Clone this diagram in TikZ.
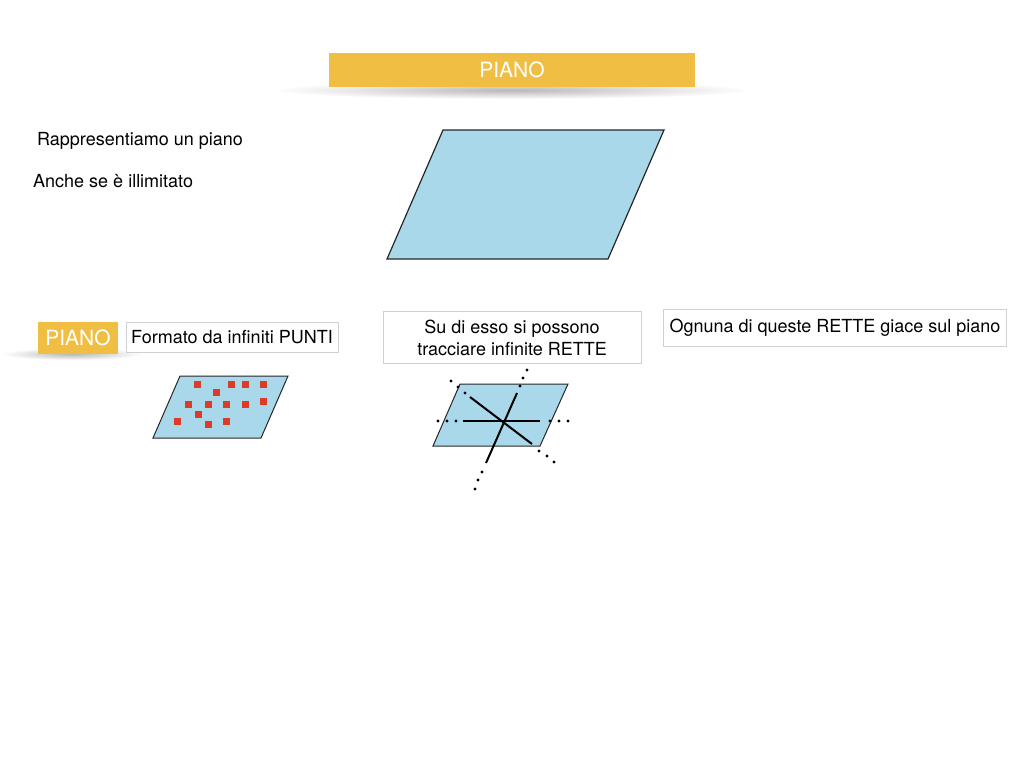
\documentclass[tikz,border=0pt]{standalone}
\usepackage{fontspec}
\setmainfont{TeX Gyre Heros}
\usepackage{xcolor}
\definecolor{gold}{RGB}{239,190,66}
\definecolor{pianoblue}{RGB}{168,216,234}
\definecolor{puntored}{RGB}{222,58,40}
\definecolor{boxgray}{RGB}{208,208,208}

\begin{document}
\begin{tikzpicture}[x=1pt,y=-1pt,
  txt/.style={font=\fontsize{18}{22}\selectfont,inner sep=0pt},
  tbox/.style={draw=boxgray,line width=0.8pt,fill=white,align=center,
    font=\fontsize{18}{22}\selectfont},
  titolo/.style={fill=gold,text=white,font=\fontsize{21}{24}\selectfont},
  piano/.style={fill=pianoblue,draw=black!85,line width=1.2pt,line join=miter},
  retta/.style={line width=2pt}]
\useasboundingbox (0,0) rectangle (1024,768);
% title bar with soft shadow
\shade[inner color=black!28,outer color=white] (512,90) ellipse (240 and 9);
\node[titolo,minimum width=366,minimum height=34] (titolo) at (512,70) {PIANO};
% big plane
\draw[piano] (443,130)--(664,130)--(608,259)--(387,259)--cycle;
\node[txt,anchor=west] (rappr) at (37,141) {Rappresentiamo un piano};
\node[txt,anchor=west] (anche) at (33,181) {Anche se è illimitato};
% second row: points
\shade[inner color=black!28,outer color=white] (72,354) ellipse (70 and 6);
\node[titolo,minimum width=80,minimum height=32,inner sep=0pt] (badge) at (78,338) {PIANO};
\node[tbox,minimum width=212,minimum height=30,inner sep=0pt] (punti) at (232,337) {Formato da infiniti PUNTI};
\draw[piano,line width=1pt] (180,376)--(288,376)--(261,438)--(153,438)--cycle;
\foreach \x/\y in {197/384,231/384,245/384,263/384,216/392,188/404,
  208/404,226/404,245/404,263/401,198/414,177/421,208/424,226/421}
  \fill[puntored] (\x-3.5,\y-3.5) rectangle ++(7,7);
% second row: lines
\node[tbox,minimum width=258,minimum height=52,inner sep=0pt] (rette) at (512,337.5)
  {Su di esso si possono\\tracciare infinite RETTE};
\draw[piano,line width=1pt] (460,384)--(568,384)--(540,446)--(433,446)--cycle;
\draw[retta] (463,421)--(540,421);
\draw[retta] (470,397)--(532,444);
\draw[retta] (517,393)--(486,463);
\foreach \x/\y in {438/421,447/421,456/421,550/421,559/421,568/421,
  451/381,458/387,465/393,539/451,547/456,554/462,
  520/386,523/378,527/370,482/472,478/480,475/489}
  \fill (\x,\y) circle (1.6);
\node[tbox,minimum width=343,minimum height=37,inner sep=0pt] (giace) at (835,327.5)
  {Ognuna di queste RETTE giace sul piano};
\end{tikzpicture}
\end{document}
